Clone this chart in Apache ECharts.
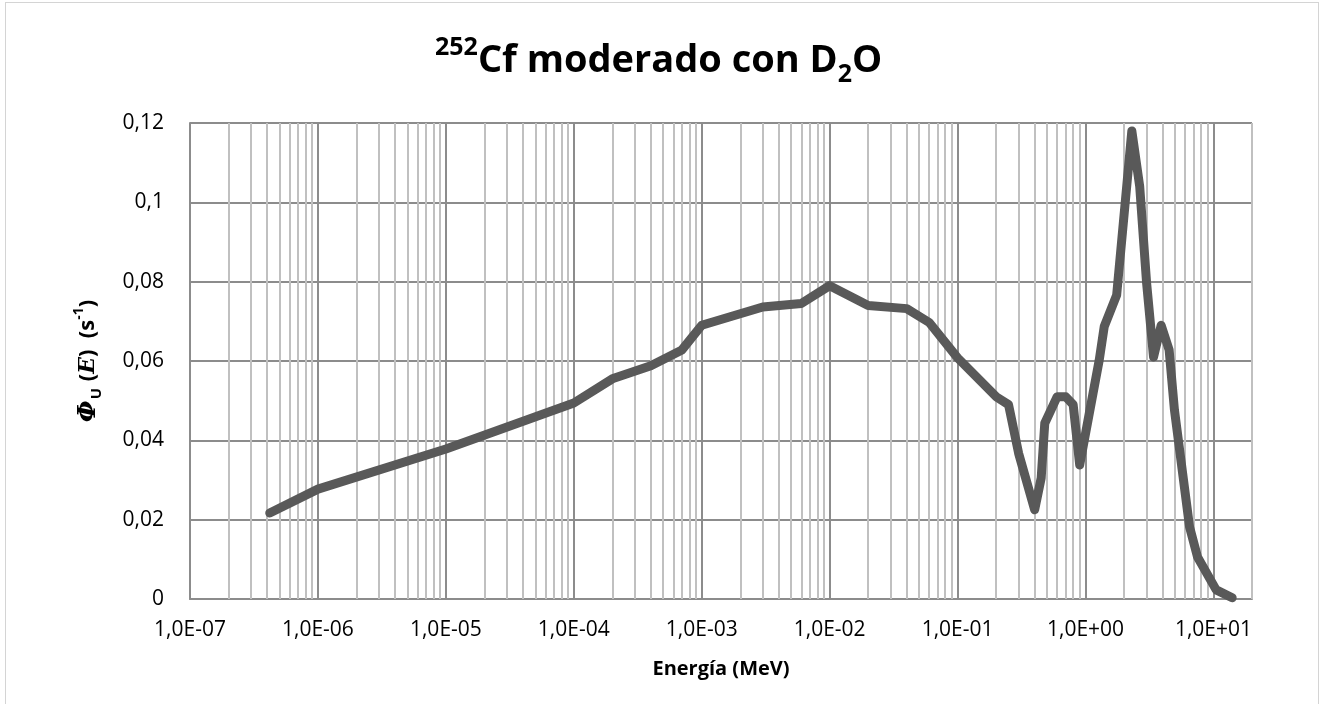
<!DOCTYPE html>
<html>
<head>
<meta charset="utf-8">
<script src="https://cdn.jsdelivr.net/npm/echarts@6/dist/echarts.min.js"></script>
<style>
  html, body { margin: 0; padding: 0; background: #fff; }
  #frame { position: absolute; left: 5px; top: 2px; width: 1314px; height: 740px; border: 1px solid #d4d4d4; box-sizing: border-box; }
  #chart { position: absolute; left: 0; top: 0; width: 1325px; height: 704px; }
</style>
</head>
<body>
<div id="frame"></div>
<div id="chart"></div>
<script>
// Neutron energy (MeV) and unit flux Φ_U(E) (s^-1)
const energyMeV = [4.2e-7, 1e-6, 1e-5, 1e-4, 2e-4, 4e-4, 7e-4, 1e-3, 3e-3, 6e-3,
  1e-2, 2e-2, 4e-2, 6e-2, 1e-1, 2e-1, 2.5e-1, 3e-1, 4e-1, 4.5e-1,
  4.8e-1, 6e-1, 7e-1, 8e-1, 9e-1, 1.28, 1.4, 1.75, 2.3, 2.65,
  3.0, 3.4, 3.9, 4.5, 4.95, 6.5, 7.5, 10.5, 14];
const fluxU = [0.0217, 0.0277, 0.0378, 0.0494, 0.0555, 0.0588, 0.0628, 0.0690, 0.0736, 0.0745,
  0.0790, 0.0740, 0.0732, 0.0697, 0.0608, 0.0510, 0.0490, 0.0367, 0.0225, 0.0305,
  0.0443, 0.0510, 0.0510, 0.0490, 0.0338, 0.0603, 0.0687, 0.0766, 0.1180, 0.1040,
  0.0797, 0.0610, 0.0690, 0.0628, 0.0477, 0.0182, 0.0106, 0.0023, 0.0003];

// Axis ranges and gridlines
const xMin = 1e-7, xMax = 20;
const decadeExponents = [-7, -6, -5, -4, -3, -2, -1, 0, 1];

const majorLines = decadeExponents.filter(e => e > -7).map(e => Math.pow(10, e));
const minorLines = [];
decadeExponents.forEach(e => {
  for (let m = 2; m <= 9; m++) {
    const v = m * Math.pow(10, e);
    if (v <= xMax * 1.0001) minorLines.push(v);
  }
});

const MAJOR = '#8c8c8c', MINOR = '#c0c0c0';
const FONT = '"Open Sans", "Liberation Sans", sans-serif';

function expLabel(v) {
  const e = Math.round(Math.log10(v));
  if (Math.abs(v / Math.pow(10, e) - 1) > 1e-6) return '';
  const s = e < 0 ? '-' : '+';
  const a = Math.abs(e);
  return '1,0E' + s + (a < 10 ? '0' + a : a);
}

const gridMarks = minorLines.map(v => ({ xAxis: v, lineStyle: { color: MINOR, width: 2, type: 'solid' } }))
  .concat(majorLines.map(v => ({ xAxis: v, lineStyle: { color: MAJOR, width: 2, type: 'solid' } })));

const chart = echarts.init(document.getElementById('chart'));
chart.setOption({
  animation: false,
  title: {
    text: '{sup|252}{m|Cf moderado con D}{sub|2}{m|O}',
    left: 430,
    top: 30,
    textStyle: {
      rich: {
        m: { fontFamily: FONT, fontWeight: 'bold', fontSize: 38, color: '#000', lineHeight: 52 },
        sup: { fontFamily: FONT, fontWeight: 'bold', fontSize: 25, color: '#000', verticalAlign: 'top', lineHeight: 26 },
        sub: { fontFamily: FONT, fontWeight: 'bold', fontSize: 25, color: '#000', verticalAlign: 'bottom', lineHeight: 26 }
      }
    }
  },
  grid: { left: 190, right: 73, top: 123, bottom: 105, containLabel: false },
  xAxis: {
    type: 'log',
    logBase: 10,
    min: xMin,
    max: xMax,
    name: 'Energía (MeV)',
    nameLocation: 'middle',
    nameGap: 60,
    nameTextStyle: { fontFamily: FONT, fontWeight: 'bold', fontSize: 20, color: '#000' },
    axisLine: { show: true, onZero: false, lineStyle: { color: MAJOR, width: 2 } },
    axisTick: { show: false },
    splitLine: { show: false },
    axisLabel: {
      fontFamily: FONT, fontSize: 21, color: '#000', margin: 21,
      showMaxLabel: false,
      formatter: expLabel
    }
  },
  yAxis: {
    type: 'value',
    min: 0,
    max: 0.12,
    interval: 0.02,
    name: '{phi|Φ}{sub|U}{n| (}{e|E}{n|)  (s}{sup|-1}{n|)}',
    nameLocation: 'middle',
    nameGap: 86,
    nameRotate: 90,
    nameTextStyle: {
      rich: {
        phi: { fontFamily: '"DejaVu Serif", serif', fontStyle: 'italic', fontWeight: 'bold', fontSize: 25, color: '#000', lineHeight: 32 },
        e: { fontFamily: '"DejaVu Serif", serif', fontStyle: 'italic', fontWeight: 'bold', fontSize: 22, color: '#000', lineHeight: 32 },
        n: { fontFamily: FONT, fontWeight: 'bold', fontSize: 22, color: '#000', lineHeight: 32 },
        sub: { fontFamily: FONT, fontWeight: 'bold', fontSize: 15, color: '#000', verticalAlign: 'bottom', lineHeight: 15, padding: [0, 1, 0, 1] },
        sup: { fontFamily: FONT, fontWeight: 'bold', fontSize: 14, color: '#000', verticalAlign: 'top', lineHeight: 15 }
      }
    },
    axisLine: { show: true, lineStyle: { color: MAJOR, width: 2 } },
    axisTick: { show: false },
    splitLine: { show: true, lineStyle: { color: MAJOR, width: 2 } },
    axisLabel: {
      fontFamily: FONT, fontSize: 21, color: '#000', margin: 26,
      formatter: v => String(+v.toFixed(2)).replace('.', ',')
    }
  },
  series: [{
    type: 'line',
    z: 3,
    data: energyMeV.map((e, i) => [e, fluxU[i]]),
    showSymbol: false,
    symbol: 'none',
    lineStyle: { color: '#595959', width: 9, cap: 'round', join: 'round' },
    markLine: {
      silent: true,
      z: 1,
      precision: 12,
      symbol: ['none', 'none'],
      label: { show: false },
      emphasis: { disabled: true },
      data: gridMarks
    }
  }]
});
</script>
</body>
</html>
